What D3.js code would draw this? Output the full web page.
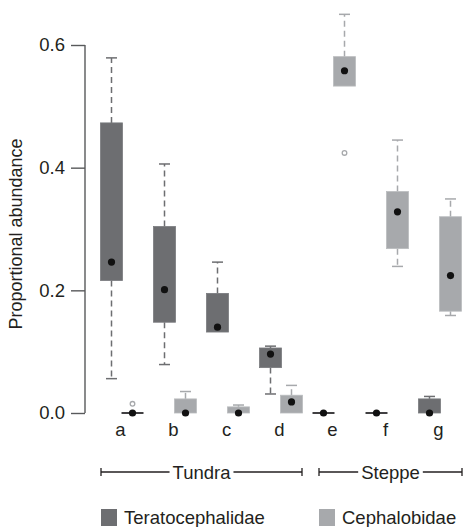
<!DOCTYPE html>
<html>
<head>
<meta charset="utf-8">
<script src="https://d3js.org/d3.v7.min.js"></script>
<style>
  body { margin: 0; background: #fff; }
  svg { font-family: 'Liberation Sans', Arial, sans-serif; }
</style>
</head>
<body>
<svg id="svg" width="463" height="527"></svg>
<script>
// groups (sites) and the two nematode families
const groups = ["a", "b", "c", "d", "e", "f", "g"];
const series = ["Teratocephalidae", "Cephalobidae"];
const seriesColors = ["#6d6e71", "#a7a9ac"];
const yTicks = [0, 0.2, 0.4, 0.6];

// box stats per group: [min, q1, median, q3, max]
const teraStats = [
  [0.056, 0.216, 0.246, 0.473, 0.579],
  [0.079, 0.148, 0.201, 0.304, 0.406],
  [0.132, 0.132, 0.140, 0.195, 0.246],
  [0.031, 0.074, 0.096, 0.106, 0.109],
  [0, 0, 0, 0, 0],
  [0, 0, 0, 0, 0],
  [0, 0, 0, 0.023, 0.027]
];
const cephStats = [
  [0, 0, 0, 0, 0],
  [0, 0, 0, 0.023, 0.035],
  [0, 0, 0, 0.010, 0.013],
  [0, 0, 0.018, 0.029, 0.045],
  [0.533, 0.533, 0.558, 0.581, 0.650],
  [0.239, 0.268, 0.328, 0.361, 0.445],
  [0.159, 0.166, 0.224, 0.320, 0.349]
];
// outliers: [group, value]
const teraOutliers = [];
const cephOutliers = [["a", 0.015], ["e", 0.424]];

// habitat brackets
const habitats = ["Tundra", "Steppe"];
const habitatFrom = ["a", "e"];
const habitatTo = ["d", "g"];

const svg = d3.select("#svg");
const fs = 18.5;

const x = d3.scaleBand().domain(groups).range([96, 467]).padding(0);
const xSub = d3.scaleBand().domain(series).range([5, 47]).padding(0);
const y = d3.scaleLinear().domain([0, 0.6]).range([413, 45]);

const boxW = 22, capW = 11;
const color = d3.scaleOrdinal().domain(series).range(seriesColors);

// y axis
const yAxis = svg.append("g")
  .attr("transform", "translate(85,0)")
  .call(d3.axisLeft(y).tickValues(yTicks).tickFormat(d3.format(".1f")).tickSize(14).tickPadding(6));
yAxis.select(".domain").attr("stroke", "#58595b").attr("stroke-width", 1.4)
  .attr("d", "M0," + y(0.6) + "V" + y(0));
yAxis.selectAll(".tick line").attr("stroke", "#58595b").attr("stroke-width", 1.4);
yAxis.selectAll(".tick text").attr("font-size", fs).attr("fill", "#231f20")
  .attr("font-family", "'Liberation Sans', Arial, sans-serif");

svg.append("text")
  .attr("transform", "translate(22,234) rotate(-90)")
  .attr("text-anchor", "middle")
  .attr("font-size", 18)
  .attr("fill", "#231f20")
  .text("Proportional abundance");

// boxes
const allStats = [teraStats, cephStats];
const allOutliers = [teraOutliers, cephOutliers];

series.forEach((s, si) => {
  const g = svg.append("g");
  allStats[si].forEach((st, gi) => {
    const cx = x(groups[gi]) + xSub(s) + xSub.bandwidth() / 2;
    const [mn, q1, md, q3, mx] = st;
    const col = color(s);
    // whiskers
    if (mx > q3) {
      g.append("line").attr("x1", cx).attr("x2", cx).attr("y1", y(q3)).attr("y2", y(mx))
        .attr("stroke", col).attr("stroke-width", 1.5).attr("stroke-dasharray", "6,4");
      g.append("line").attr("x1", cx - capW / 2).attr("x2", cx + capW / 2).attr("y1", y(mx)).attr("y2", y(mx))
        .attr("stroke", col).attr("stroke-width", 1.5);
    }
    if (mn < q1) {
      g.append("line").attr("x1", cx).attr("x2", cx).attr("y1", y(q1)).attr("y2", y(mn))
        .attr("stroke", col).attr("stroke-width", 1.5).attr("stroke-dasharray", "6,4");
      g.append("line").attr("x1", cx - capW / 2).attr("x2", cx + capW / 2).attr("y1", y(mn)).attr("y2", y(mn))
        .attr("stroke", col).attr("stroke-width", 1.5);
    }
    // box
    if (q3 > q1) {
      g.append("rect")
        .attr("x", cx - boxW / 2).attr("y", y(q3))
        .attr("width", boxW).attr("height", y(q1) - y(q3))
        .attr("fill", col).attr("stroke", d3.color(col).brighter(0.3)).attr("stroke-width", 0.8);
    } else {
      g.append("line").attr("x1", cx - boxW / 2).attr("x2", cx + boxW / 2)
        .attr("y1", y(q1)).attr("y2", y(q1))
        .attr("stroke", "#414042").attr("stroke-width", 2);
    }
    // median
    g.append("circle").attr("cx", cx).attr("cy", y(md)).attr("r", 3.6).attr("fill", "#111");
  });
  allOutliers[si].forEach(o => {
    g.append("circle")
      .attr("cx", x(o[0]) + xSub(s) + xSub.bandwidth() / 2)
      .attr("cy", y(o[1]))
      .attr("r", 2.3)
      .attr("fill", "none")
      .attr("stroke", color(s))
      .attr("stroke-width", 1.3);
  });
});

// group labels
svg.selectAll(".glabel").data(groups).join("text")
  .attr("class", "glabel")
  .attr("x", d => x(d) + x.bandwidth() / 2 - 2)
  .attr("y", 436)
  .attr("text-anchor", "middle")
  .attr("font-size", fs)
  .attr("fill", "#231f20")
  .text(d => d);

// habitat brackets
const bracketY = 472;
const fromOff = [5, 11], toOff = [47, 48];
habitats.forEach((h, i) => {
  const x0 = x(habitatFrom[i]) + fromOff[i];
  const x1 = x(habitatTo[i]) + toOff[i];
  const mid = (x0 + x1) / 2;
  const t = svg.append("text")
    .attr("x", mid).attr("y", bracketY + 6.5)
    .attr("text-anchor", "middle")
    .attr("font-size", fs)
    .attr("fill", "#231f20")
    .text(h);
  const tw = t.node().getComputedTextLength();
  const gap = tw / 2 + 3;
  svg.append("line").attr("x1", x0).attr("x2", mid - gap).attr("y1", bracketY).attr("y2", bracketY)
    .attr("stroke", "#231f20").attr("stroke-width", 1.3);
  svg.append("line").attr("x1", mid + gap).attr("x2", x1).attr("y1", bracketY).attr("y2", bracketY)
    .attr("stroke", "#231f20").attr("stroke-width", 1.3);
  [x0, x1].forEach(xx => svg.append("line").attr("x1", xx).attr("x2", xx)
    .attr("y1", bracketY - 4).attr("y2", bracketY + 4)
    .attr("stroke", "#231f20").attr("stroke-width", 1.3));
});

// legend
const legendX = [101, 319];
series.forEach((s, i) => {
  svg.append("rect").attr("x", legendX[i]).attr("y", 509).attr("width", 16).attr("height", 17)
    .attr("fill", color(s));
  svg.append("text").attr("x", legendX[i] + 23).attr("y", 524)
    .attr("font-size", fs).attr("fill", "#231f20").text(s);
});
</script>
</body>
</html>
